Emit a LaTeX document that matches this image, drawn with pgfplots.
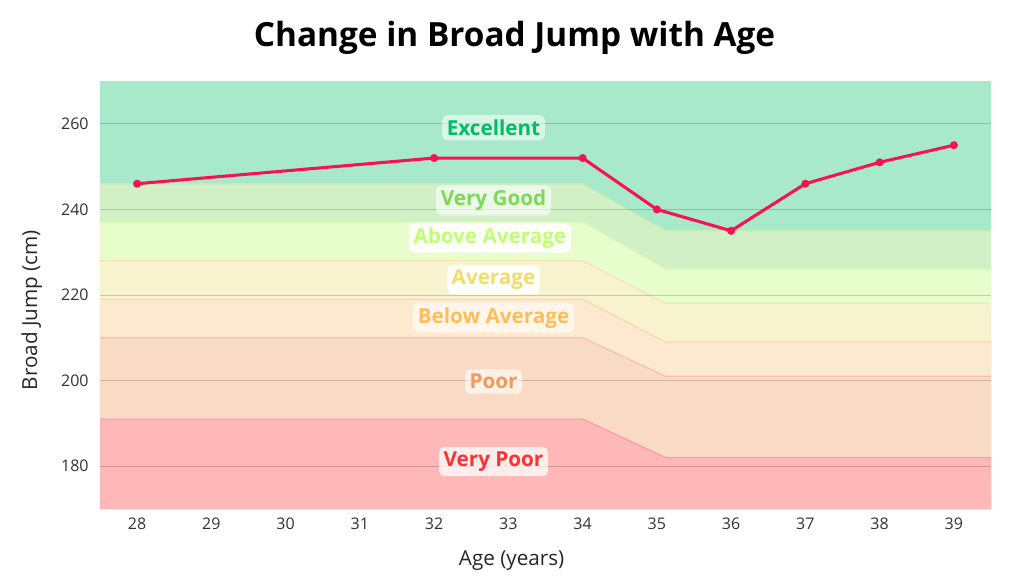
\documentclass[border=0pt]{standalone}
\usepackage{pgfplots}
\pgfplotsset{compat=1.18}
\usepackage{fontspec}
\setmainfont{Open Sans}
\newfontfamily\titlefont{Open Sans}
\definecolor{bExc}{HTML}{A9E9CB}
\definecolor{bVG}{HTML}{D2F0C6}
\definecolor{bAA}{HTML}{E7FDCB}
\definecolor{bAvg}{HTML}{F7F3CF}
\definecolor{bBA}{HTML}{FDE9CF}
\definecolor{bPoor}{HTML}{F9DBC5}
\definecolor{bVP}{HTML}{FEB8B8}
\definecolor{lVG}{HTML}{C6EDB0}
\definecolor{lAA}{HTML}{DDF9B6}
\definecolor{lAvg}{HTML}{F6E5B3}
\definecolor{lBA}{HTML}{FBD7B5}
\definecolor{lPoor}{HTML}{F7C2A4}
\definecolor{lVP}{HTML}{FB9C9C}
\definecolor{tExc}{HTML}{00BF63}
\definecolor{tVG}{HTML}{7ED957}
\definecolor{tAA}{HTML}{C1FF72}
\definecolor{tAvg}{HTML}{F2DC6A}
\definecolor{tBA}{HTML}{FFBD59}
\definecolor{tPoor}{HTML}{F19A5E}
\definecolor{tVP}{HTML}{FF3131}
\definecolor{lineRed}{HTML}{F5144F}
\definecolor{tickgray}{HTML}{333333}
\begin{document}
\begin{tikzpicture}
\path[use as bounding box] (0,0) rectangle (768pt,432pt);
\begin{axis}[
  at={(75pt,50.25pt)}, anchor=south west,
  scale only axis, width=668.25pt, height=321pt,
  xmin=27.5, xmax=39.5, ymin=170, ymax=270,
  xtick={28,29,...,39}, ytick={180,200,...,260},
  axis line style={draw=none}, major tick length=0pt,
  tick label style={font=\fontsize{12}{14}\selectfont, text=tickgray},
  /pgf/number format/assume math mode=true,
  xticklabel style={yshift=-3pt},
  yticklabel style={xshift=-5pt},
  clip=true,
  xlabel={Age (years)}, ylabel={Broad Jump (cm)},
  label style={font=\fontsize{15.5}{18}\selectfont, text=black!85},
  xlabel style={at={(0.462,0)}, anchor=center, yshift=-38.5pt},
  every axis y label/.append style={at={(-0.0765,0.465)}, rotate=0, anchor=center},
]
% bands (drawn from top to bottom)
\addplot[fill=bExc, draw=none] coordinates {(27.5,270) (39.5,270) (39.5,170) (27.5,170)} -- cycle;
\addplot[fill=bVG, draw=none] coordinates {(27.5,246) (34,246) (35.12,235) (39.5,235)} \closedcycle;
\addplot[draw=lVG, line width=0.9pt] coordinates {(27.5,246) (34,246) (35.12,235) (39.5,235)};
\addplot[fill=bAA, draw=none] coordinates {(27.5,237) (34,237) (35.12,226) (39.5,226)} \closedcycle;
\addplot[draw=lAA, line width=0.9pt] coordinates {(27.5,237) (34,237) (35.12,226) (39.5,226)};
\addplot[fill=bAvg, draw=none] coordinates {(27.5,228) (34,228) (35.12,218) (39.5,218)} \closedcycle;
\addplot[draw=lAvg, line width=0.9pt] coordinates {(27.5,228) (34,228) (35.12,218) (39.5,218)};
\addplot[fill=bBA, draw=none] coordinates {(27.5,219) (34,219) (35.12,209) (39.5,209)} \closedcycle;
\addplot[draw=lBA, line width=0.9pt] coordinates {(27.5,219) (34,219) (35.12,209) (39.5,209)};
\addplot[fill=bPoor, draw=none] coordinates {(27.5,210) (34,210) (35.12,201) (39.5,201)} \closedcycle;
\addplot[draw=lPoor, line width=0.9pt] coordinates {(27.5,210) (34,210) (35.12,201) (39.5,201)};
\addplot[fill=bVP, draw=none] coordinates {(27.5,191) (34,191) (35.12,182) (39.5,182)} \closedcycle;
\addplot[draw=lVP, line width=0.9pt] coordinates {(27.5,191) (34,191) (35.12,182) (39.5,182)};
% grid lines
\addplot[draw=black, draw opacity=0.18, line width=0.75pt] coordinates {(27.5,180) (39.5,180)};
\addplot[draw=black, draw opacity=0.18, line width=0.75pt] coordinates {(27.5,200) (39.5,200)};
\addplot[draw=black, draw opacity=0.18, line width=0.75pt] coordinates {(27.5,220) (39.5,220)};
\addplot[draw=black, draw opacity=0.18, line width=0.75pt] coordinates {(27.5,240) (39.5,240)};
\addplot[draw=black, draw opacity=0.18, line width=0.75pt] coordinates {(27.5,260) (39.5,260)};
% labels
\tikzset{bandlab/.style={rounded corners=4pt, inner xsep=3.5pt, inner ysep=3.5pt, font=\fontsize{15.5}{17}\bfseries\selectfont, anchor=center}}
\node[bandlab, fill=white, fill opacity=0.55, text opacity=1, text=tExc] at (axis cs:32.8,259.07) {Excellent};
\node[bandlab, fill=white, fill opacity=0.6, text opacity=1, text=tVG] at (axis cs:32.8,242.1) {Very Good};
\node[bandlab, fill=white, fill opacity=0.92, text opacity=1, text=tAA] at (axis cs:32.75,233.4) {Above Average};
\node[bandlab, fill=white, fill opacity=0.92, text opacity=1, text=tAvg] at (axis cs:32.8,223.55) {Average};
\node[bandlab, fill=white, fill opacity=0.6, text opacity=1, text=tBA] at (axis cs:32.8,214.7) {Below Average};
\node[bandlab, fill=white, fill opacity=0.6, text opacity=1, text=tPoor] at (axis cs:32.8,199.8) {Poor};
\node[bandlab, fill=white, fill opacity=0.75, text opacity=1, text=tVP] at (axis cs:32.8,181.1) {Very Poor};
% data
\addplot[draw=lineRed, line width=2.3pt, mark=*, mark size=2.8pt, mark options={solid, fill=lineRed, draw=lineRed, line width=0.4pt}] coordinates {
 (28,246) (32,252) (34,252) (35,240) (36,235) (37,246) (38,251) (39,255)};
\end{axis}
\node[anchor=base, font=\titlefont\fontsize{25}{29}\bfseries\selectfont] at (385.9pt,397pt) {Change in Broad Jump with Age};
\end{tikzpicture}
\end{document}
